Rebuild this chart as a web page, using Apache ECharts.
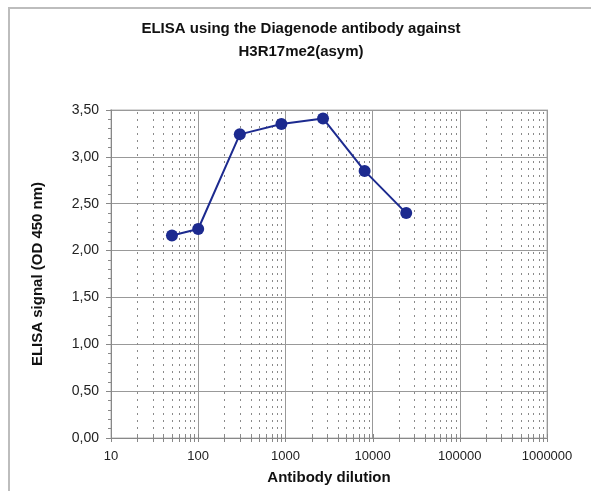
<!DOCTYPE html>
<html>
<head>
<meta charset="utf-8">
<script src="https://cdn.jsdelivr.net/npm/echarts@6/dist/echarts.min.js"></script>
<style>
html,body{margin:0;padding:0;background:#fff;}
#chart{width:591px;height:491px;}
</style>
</head>
<body>
<div id="chart"></div>
<script>
// Data
const dilutions = [50, 100, 300, 900, 2700, 8100, 24300];
const signals = [2.16, 2.23, 3.24, 3.35, 3.41, 2.85, 2.40];
const titleLines = ['ELISA using the Diagenode antibody against', 'H3R17me2(asym)'];
const xName = 'Antibody dilution';
const yName = 'ELISA signal (OD 450 nm)';
const xMin = 10, xMax = 1000000;
const yMin = 0, yMax = 3.5, yStep = 0.5;

// axis structure: decade ticks and 2..9 minor ticks
const tickVals = [];
for (let d = xMin; d <= xMax; d *= 10) {
  tickVals.push([d, 1]);
  if (d < xMax) for (let k = 2; k <= 9; k++) tickVals.push([k * d, 0]);
}

const FONT = '"Liberation Sans", Arial, sans-serif';
const chart = echarts.init(document.getElementById('chart'), null, {renderer: 'canvas'});
chart.setOption({
  animation: false,
  backgroundColor: '#fff',
  graphic: [{
    type: 'rect', shape: {x: 9, y: 8, width: 700, height: 600},
    style: {fill: 'none', stroke: '#bdbdbd', lineWidth: 2}, z: -10
  }],
  title: {
    text: titleLines.join('\n'),
    left: 296, top: 12, textAlign: 'center',
    textStyle: {fontFamily: FONT, fontSize: 15, fontWeight: 'bold', color: '#111', lineHeight: 23}
  },
  grid: {left: 111, right: 44, top: 110, bottom: 53, show: true, borderColor: '#d9d9d9', borderWidth: 2, backgroundColor: 'transparent'},
  xAxis: {
    type: 'log', logBase: 10, min: xMin, max: xMax,
    name: xName, nameLocation: 'middle', nameGap: 32,
    nameTextStyle: {fontFamily: FONT, fontSize: 15, fontWeight: 'bold', color: '#111'},
    axisLine: {lineStyle: {color: '#888', width: 1}},
    axisTick: {show: false},
    axisLabel: {fontFamily: FONT, fontSize: 13, color: '#222', margin: 12, formatter: v => String(Math.round(v))},
    splitLine: {show: true, lineStyle: {color: '#999', width: 1}}
  },
  yAxis: {
    type: 'value', min: yMin, max: yMax, interval: yStep,
    name: yName, nameLocation: 'middle', nameGap: 66, nameRotate: 90,
    nameTextStyle: {fontFamily: FONT, fontSize: 15, fontWeight: 'bold', color: '#111'},
    axisLine: {show: true, lineStyle: {color: '#888', width: 1}},
    axisTick: {show: true, length: 5, lineStyle: {color: '#888'}},
    minorTick: {show: true, splitNumber: 5, length: 3, lineStyle: {color: '#888'}},
    axisLabel: {fontFamily: FONT, fontSize: 14, color: '#222', margin: 12, formatter: v => v.toFixed(2).replace('.', ',')},
    splitLine: {show: true, lineStyle: {color: '#999', width: 1}}
  },
  series: [{
    type: 'custom',
    data: tickVals,
    clip: false,
    silent: true,
    z: 1,
    renderItem: function (params, api) {
      const cs = params.coordSys;
      const p = api.coord([api.value(0), yMin]);
      const x = Math.round(p[0]) + 0.5;
      const y0 = cs.y + cs.height;
      const children = [{
        type: 'line', shape: {x1: x, y1: y0 - 4, x2: x, y2: y0 + 4},
        style: {stroke: '#888', lineWidth: 1}
      }];
      if (!api.value(1)) {
        children.push({
          type: 'line', shape: {x1: x, y1: cs.y + 2, x2: x, y2: y0},
          style: {stroke: '#8a8a8a', lineWidth: 1, lineDash: [2, 5]}
        });
      }
      return {type: 'group', children: children};
    }
  }, {
    type: 'line',
    data: dilutions.map((d, i) => [d, signals[i]]),
    symbol: 'circle', symbolSize: 12,
    lineStyle: {color: '#1c2a8f', width: 2},
    itemStyle: {color: '#1c2a8f'},
    z: 5
  }]
});
</script>
</body>
</html>
